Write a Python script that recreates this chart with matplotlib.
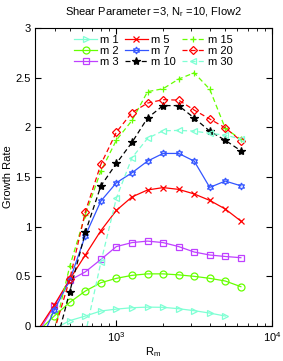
import numpy as np
import matplotlib
matplotlib.use("Agg")
import matplotlib.pyplot as plt
from matplotlib.ticker import LogLocator, NullFormatter

plt.rcParams['font.family'] = ['Liberation Sans', 'DejaVu Sans']
plt.rcParams['mathtext.fontset'] = 'custom'
plt.rcParams['mathtext.rm'] = 'Liberation Sans'
plt.rcParams['mathtext.it'] = 'Liberation Sans'

nan = np.nan

# magnetic Reynolds numbers (log-spaced grid)
rm = [316, 398, 501, 631, 794, 1000, 1259, 1585, 1995, 2512, 3162, 3981, 5012, 6310]

m1 = [nan, -0.03, 0.054, 0.10, 0.151, 0.17, 0.184, 0.19, 0.188, 0.174, 0.154, 0.13, 0.10, nan]
m2 = [-0.05, 0.10, 0.238, 0.352, 0.436, 0.48, 0.51, 0.525, 0.525, 0.515, 0.50, 0.48, 0.453, 0.396]
m3 = [-0.06, 0.20, 0.46, 0.545, 0.67, 0.80, 0.84, 0.855, 0.84, 0.80, 0.745, 0.715, 0.70, 0.688]
m5 = [-0.03, 0.21, 0.47, 0.715, 0.96, 1.165, 1.30, 1.37, 1.394, 1.376, 1.33, 1.265, 1.178, 1.057]
m7 = [-0.21, 0.16, 0.46, 0.91, 1.258, 1.443, 1.543, 1.661, 1.738, 1.738, 1.661, 1.396, 1.46, 1.412]
m10 = [nan, -0.25, 0.345, 0.943, 1.41, 1.638, 1.849, 2.095, 2.22, 2.22, 2.095, 1.963, 1.87, 1.765]
m15 = [nan, -0.05, 0.60, 1.12, 1.56, 1.873, 2.07, 2.36, 2.39, 2.487, 2.55, 2.385, 1.99, 1.88]
m20 = [nan, -0.05, 0.47, 1.15, 1.628, 1.953, 2.15, 2.245, 2.28, 2.275, 2.175, 2.085, 1.996, 1.866]
m30 = [nan, nan, nan, -0.08, 0.64, 1.29, 1.694, 1.89, 1.966, 1.97, 1.963, 1.94, 1.923, 1.883]

labels = ['m 1', 'm 2', 'm 3', 'm 5', 'm 7', 'm 10', 'm 15', 'm 20', 'm 30']

aqua = '#7fffd4'
lime = '#66ff00'
purple = '#bf40ff'
blue = '#3355ff'

fig = plt.figure(figsize=(2.83, 3.61), dpi=100)
ax = fig.add_axes([0.124, 0.097, 0.837, 0.825])

dash = (0, (4, 2.5))
styles = [
    (m1, aqua, '>', '-', 'none'),
    (m2, lime, 'o', '-', 'none'),
    (m3, purple, 's', '-', 'none'),
    (m5, 'red', 'x', '-', 'none'),
    (m7, blue, (6, 1, 0), '-', 'none'),
    (m10, 'black', '*', dash, 'black'),
    (m15, lime, '+', dash, 'none'),
    (m20, 'red', 'D', dash, 'none'),
    (m30, aqua, '<', dash, 'none'),
]

for (vals, col, mk, ls, mfc), lab in zip(styles, labels):
    ms = 4.3 if mk == 'D' else 5
    if mk == '*':
        ms = 6
    ax.plot(rm, vals, color=col, marker=mk, linestyle=ls, linewidth=0.9,
            markersize=ms, markerfacecolor=mfc, markeredgewidth=0.9, label=lab)

ax.set_xscale('log')
ax.set_xlim(300, 1e4)
ax.set_ylim(0, 3)
ax.set_yticks([0, 0.5, 1, 1.5, 2, 2.5, 3])
ax.set_yticklabels(['0', '0.5', '1', '1.5', '2', '2.5', '3'])
ax.xaxis.set_major_locator(LogLocator(base=10, numticks=10))
ax.xaxis.set_minor_locator(LogLocator(base=10, subs=np.arange(2, 10), numticks=10))
ax.xaxis.set_minor_formatter(NullFormatter())
ax.tick_params(which='both', direction='in', top=True, right=True, labelsize=8, pad=3)
ax.tick_params(which='major', length=4)
ax.tick_params(which='minor', length=2)

ax.set_xlabel('R$_m$', fontsize=8, labelpad=1)
ax.set_ylabel('Growth Rate', fontsize=8, labelpad=2)
ax.set_title('Shear Parameter =3, N$_r$ =10, Flow2', fontsize=8, pad=9)

ax.legend(loc='upper center', ncol=3, frameon=False, fontsize=8,
          handlelength=2.0, handletextpad=0.3, columnspacing=0.6,
          labelspacing=0.1, borderaxespad=0.2)

fig.savefig('out.png', dpi=100)
